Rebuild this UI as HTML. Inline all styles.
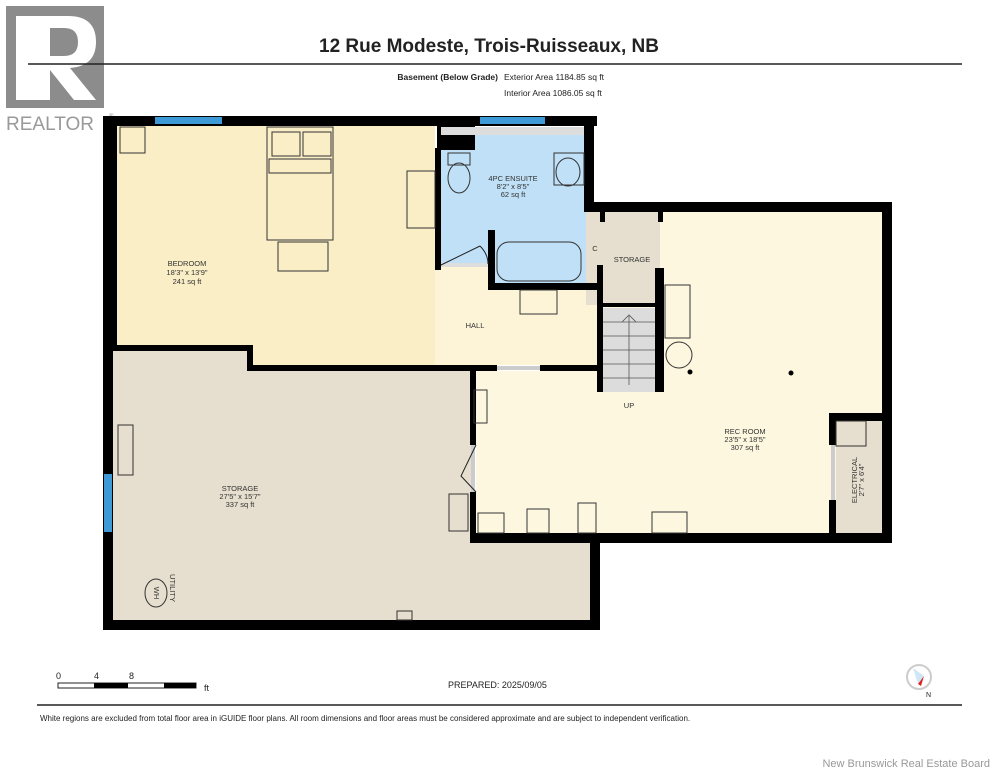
<!DOCTYPE html>
<html><head><meta charset="utf-8"><style>
html,body{margin:0;padding:0;background:#fff;}
svg{display:block;font-family:"Liberation Sans",sans-serif;}
</style></head><body>
<svg width="995" height="768" viewBox="0 0 995 768" xmlns="http://www.w3.org/2000/svg">
<!-- logo -->
<rect x="6" y="6" width="98" height="102" fill="#8c8c8c"/>
<path d="M16 16 H68 Q96 16 96 42 Q96 66 70 68 L96 100 H74 L50 70 V100 H16 Z" fill="#fff"/>
<path d="M50 28 H64 Q78 28 78 42 Q78 56 64 56 H50 Z" fill="#8c8c8c"/>
<text x="6" y="130" font-size="19" fill="#999">REALTOR</text>
<text x="109" y="118" font-size="6" fill="#999">®</text>
<!-- title -->
<text x="489" y="52" font-size="19" font-weight="bold" text-anchor="middle" fill="#222">12 Rue Modeste, Trois-Ruisseaux, NB</text>
<line x1="28" y1="64" x2="962" y2="64" stroke="#222" stroke-width="1.5"/>
<text x="498" y="80" font-size="8.5" font-weight="bold" text-anchor="end" fill="#222">Basement (Below Grade)</text>
<text x="504" y="80" font-size="8.5" fill="#222">Exterior Area 1184.85 sq ft</text>
<text x="504" y="96" font-size="8.5" fill="#222">Interior Area 1086.05 sq ft</text>

<!-- floors -->
<rect x="113" y="126" width="322" height="240" fill="#faeec6"/>
<rect x="435" y="265" width="165" height="100" fill="#fdf4d8"/>
<rect x="441" y="127" width="145" height="103" fill="#bfe0f7"/>
<rect x="441" y="230" width="47" height="35" fill="#bfe0f7"/>
<rect x="488" y="230" width="98" height="55" fill="#bfe0f7"/>
<rect x="113" y="351" width="134" height="274" fill="#e6dece"/>
<rect x="247" y="371" width="226" height="254" fill="#e6dece"/>
<rect x="470" y="540" width="125" height="85" fill="#e6dece"/>
<rect x="603" y="212" width="283" height="325" fill="#fdf7e0"/>
<rect x="476" y="371" width="130" height="166" fill="#fdf7e0"/>
<rect x="586" y="212" width="74" height="93" fill="#e6dece"/>
<rect x="603" y="308" width="52" height="84" fill="#dcdcdc"/>
<rect x="836" y="421" width="46" height="112" fill="#e6dece"/>

<!-- walls -->
<g fill="#000">
<rect x="103" y="116" width="494" height="10"/>
<rect x="103" y="116" width="14" height="235"/>
<rect x="103" y="345" width="10" height="285"/>
<rect x="103" y="620" width="497" height="10"/>
<rect x="590" y="533" width="10" height="97"/>
<rect x="470" y="533" width="422" height="10"/>
<rect x="882" y="202" width="10" height="341"/>
<rect x="584" y="202" width="308" height="10"/>
<rect x="584" y="116" width="10" height="96"/>
<rect x="113" y="345" width="140" height="6"/>
<rect x="247" y="345" width="6" height="26"/>
<rect x="247" y="365" width="250" height="6"/>
<rect x="540" y="365" width="63" height="6"/>
<rect x="470" y="365" width="6" height="80"/>
<rect x="470" y="492" width="6" height="48"/>
<rect x="437" y="116" width="38" height="34"/>
<rect x="435" y="148" width="6" height="122"/>
<rect x="488" y="230" width="7" height="60"/>
<rect x="488" y="283" width="115" height="7"/>
<rect x="597" y="265" width="6" height="127"/>
<rect x="655" y="268" width="9" height="124"/>
<rect x="600" y="212" width="5" height="10"/>
<rect x="658" y="212" width="5" height="10"/>
<rect x="829" y="413" width="63" height="8"/>
<rect x="829" y="413" width="7" height="32"/>
<rect x="829" y="500" width="7" height="35"/>
<rect x="600" y="303" width="58" height="4"/>
</g>
<!-- windows / doors -->
<rect x="155" y="117" width="67" height="7" fill="#3d9ad6"/>
<rect x="480" y="117" width="65" height="7" fill="#3d9ad6"/>
<rect x="104" y="474" width="8" height="58" fill="#3d9ad6"/>
<rect x="497" y="366" width="43" height="4" fill="#ccc"/>
<rect x="471" y="445" width="4" height="47" fill="#ccc"/>
<rect x="831" y="445" width="4" height="55" fill="#ccc"/>
<rect x="441" y="127" width="143" height="8" fill="#ddd"/>
<rect x="441" y="263" width="47" height="4" fill="#ddd"/>
<path d="M441 265 L480 246 M480 246 Q488 254 488 264" stroke="#222" fill="none" stroke-width="1"/>
<path d="M476 445 L461 476 L476 492" stroke="#222" fill="none"/>

<!-- furniture -->
<g fill="none" stroke="#333" stroke-width="1">
<rect x="120" y="127" width="25" height="26"/>
<rect x="267" y="127" width="66" height="113"/>
<rect x="272" y="132" width="28" height="24"/><rect x="303" y="132" width="28" height="24"/>
<rect x="269" y="159" width="62" height="14"/>
<rect x="278" y="242" width="50" height="29"/>
<rect x="407" y="171" width="28" height="57"/>
<ellipse cx="459" cy="178" rx="11" ry="15"/><rect x="448" y="153" width="22" height="12"/>
<rect x="554" y="153" width="30" height="32"/><ellipse cx="568" cy="172" rx="12" ry="14"/>
<rect x="497" y="242" width="84" height="39" rx="12"/>
<rect x="520" y="290" width="37" height="24"/>
<rect x="665" y="285" width="25" height="53"/>
<circle cx="679" cy="355" r="13"/>
<rect x="474" y="390" width="13" height="33"/>
<rect x="118" y="425" width="15" height="50"/>
<rect x="449" y="494" width="19" height="37"/>
<rect x="478" y="513" width="26" height="20"/>
<rect x="527" y="509" width="22" height="24"/>
<rect x="578" y="503" width="18" height="30"/>
<rect x="652" y="512" width="35" height="21"/>
<rect x="836" y="421" width="30" height="25"/>
<rect x="397" y="611" width="15" height="9"/>
<ellipse cx="156" cy="593" rx="11" ry="14"/>
</g>
<g stroke="#555" stroke-width="0.8">
<line x1="603" y1="322" x2="655" y2="322"/><line x1="603" y1="336" x2="655" y2="336"/>
<line x1="603" y1="350" x2="655" y2="350"/><line x1="603" y1="364" x2="655" y2="364"/>
<line x1="603" y1="378" x2="655" y2="378"/>
<line x1="629" y1="385" x2="629" y2="316"/>
<path d="M622 322 L629 315 L636 322" fill="none"/>
</g>
<circle cx="690" cy="372" r="2.5"/><circle cx="791" cy="373" r="2.5"/>

<!-- labels -->
<g font-size="7.5" fill="#333" text-anchor="middle">
<text x="187" y="266">BEDROOM</text><text x="187" y="275">18'3" x 13'9"</text><text x="187" y="284">241 sq ft</text>
<text x="513" y="181">4PC ENSUITE</text><text x="513" y="189">8'2" x 8'5"</text><text x="513" y="197">62 sq ft</text>
<text x="632" y="262">STORAGE</text><text x="595" y="251">C</text>
<text x="475" y="328">HALL</text>
<text x="629" y="408">UP</text>
<text x="745" y="434">REC ROOM</text><text x="745" y="442">23'5" x 18'5"</text><text x="745" y="450">307 sq ft</text>
<text x="240" y="491">STORAGE</text><text x="240" y="499">27'5" x 15'7"</text><text x="240" y="507">337 sq ft</text>
<text transform="translate(857,480) rotate(-90)">ELECTRICAL</text>
<text transform="translate(864,480) rotate(-90)">2'7" x 6'4"</text>
<text transform="translate(170,588) rotate(90)">UTILITY</text>
<text transform="translate(154,593) rotate(90)">WH</text>
</g>

<!-- footer -->
<g font-size="9" fill="#222">
<text x="56" y="679">0</text><text x="94" y="679">4</text><text x="129" y="679">8</text>
<text x="204" y="691">ft</text>
<text x="448" y="688">PREPARED: 2025/09/05</text>
</g>
<rect x="58" y="683" width="138" height="5" fill="#fff" stroke="#222" stroke-width="1"/>
<rect x="94" y="683" width="34" height="5" fill="#000"/><rect x="164" y="683" width="32" height="5" fill="#000"/>
<circle cx="919" cy="677" r="12" fill="#fff" stroke="#ccc" stroke-width="2"/>
<path d="M913 668 L924 676 L918 684 Z" fill="#cfe6f7"/>
<path d="M924 676 L918 684 L921 686 Z" fill="#d22"/>
<text x="926" y="697" font-size="7" fill="#222">N</text>
<line x1="37" y1="705" x2="962" y2="705" stroke="#222" stroke-width="1.5"/>
<text x="40" y="721" font-size="8" fill="#222">White regions are excluded from total floor area in iGUIDE floor plans. All room dimensions and floor areas must be considered approximate and are subject to independent verification.</text>
<text x="990" y="767" font-size="11" fill="#999" text-anchor="end">New Brunswick Real Estate Board</text>
</svg>
</body></html>
